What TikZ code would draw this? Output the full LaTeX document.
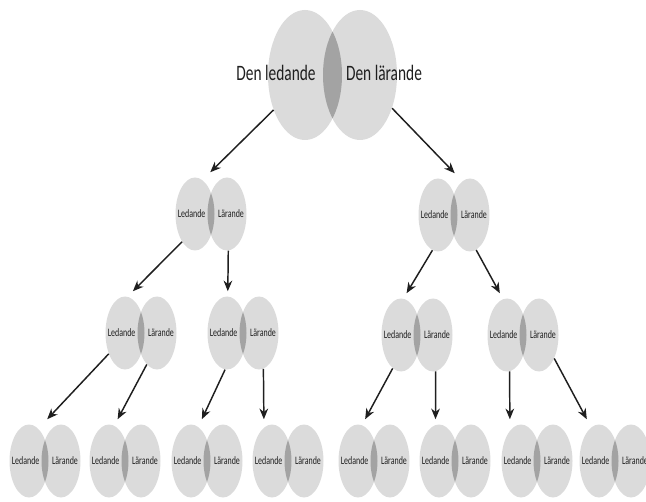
\documentclass[tikz,border=0pt]{standalone}
\usepackage{fontspec}
\usepackage{xcolor}
\usepackage{tikz}
\usetikzlibrary{shapes.geometric,arrows.meta}

\newfontfamily\vennfont[FakeStretch=0.7]{Carlito}
\definecolor{discgray}{gray}{0.86}
\definecolor{lensgray}{gray}{0.64}
\definecolor{inkgray}{gray}{0.12}

% two overlapping discs with their labels, #1 = name, (#2,#3) = centre of the pair
\newcommand{\vennpair}[3]{%
  \node[pairbox] (#1) at (#2,#3) {};
  \node[disc] (#1l) at (#2-16,#3) {};
  \node[disc] (#1r) at (#2+16,#3) {};
  \begin{scope}
    \clip (#1l.center) ellipse [x radius=19.5, y radius=36.5];
    \fill[lensgray] (#1r.center) ellipse [x radius=19.5, y radius=36.5];
  \end{scope}
  \node[tag] (#1a) at ([xshift=-2.5pt]#1l.center) {Ledande};
  \node[tag] (#1b) at ([xshift=3pt]#1r.center) {Lärande};
}

\begin{document}
\begin{tikzpicture}[x=0.75pt,y=0.75pt,yscale=-1,xscale=1,
    disc/.style={ellipse, fill=discgray, inner sep=0pt, minimum width=29.25pt, minimum height=54.75pt},
    bigdisc/.style={disc, minimum width=55.5pt, minimum height=97.5pt},
    pairbox/.style={rectangle, inner sep=0pt, minimum width=53.25pt, minimum height=62.25pt},
    tag/.style={inner sep=0pt, text=inkgray, font=\vennfont\fontsize{8.5}{10}\selectfont},
    bigtag/.style={tag, font=\vennfont\fontsize{16.5}{19}\selectfont},
    link/.style={draw=inkgray, line width=1.1pt, -{Stealth[length=8pt,width=6.5pt]}}]
        \useasboundingbox (0,0) rectangle (646,502);

        % top pair
        \node[bigdisc] (topl) at (305,75) {};
        \node[bigdisc] (topr) at (360,75) {};
        \begin{scope}
            \clip (topl.center) ellipse [x radius=37, y radius=65];
            \fill[lensgray] (topr.center) ellipse [x radius=37, y radius=65];
        \end{scope}
        \node[bigtag] (topa) at (276,73) {Den ledande};
        \node[bigtag] (topb) at (384,73) {Den lärande};

        % second row
        \vennpair{A}{211}{214}
        \vennpair{B}{454}{215}

        % third row
        \vennpair{C}{141}{333}
        \vennpair{D}{243}{333}
        \vennpair{E}{417}{335}
        \vennpair{F}{523}{335}

        % bottom row
        \vennpair{G}{45}{461}
        \vennpair{H}{125}{461}
        \vennpair{I}{207}{461}
        \vennpair{J}{288}{461}
        \vennpair{K}{374}{461}
        \vennpair{L}{455}{461}
        \vennpair{M}{537}{461}
        \vennpair{N}{615}{461}

        % arrows
        \draw[link] (topl.228) -- (A.91);
        \draw[link] (topr.314) -- (B.89);
        \draw[link] (Al.245) -- (C.101);
        \draw[link] (Ar.272) -- (D.110);
        \draw[link] (Bl.261) -- (E.104);
        \draw[link] (Br.280) -- (F.119);
        \draw[link] (Cl.232) -- (G.87);
        \draw[link] (Cr.252) -- (H.100);
        \draw[link] (Dl.267) -- (I.97);
        \draw[link] (Dr.277) -- (J.120);
        \draw[link] (El.256) -- (K.102);
        \draw[link] (Er.274) -- (L.115);
        \draw[link] (Fl.274) -- (M.123);
        \draw[link] (Fr.303) -- (N.124);
    \end{tikzpicture}
\end{document}
